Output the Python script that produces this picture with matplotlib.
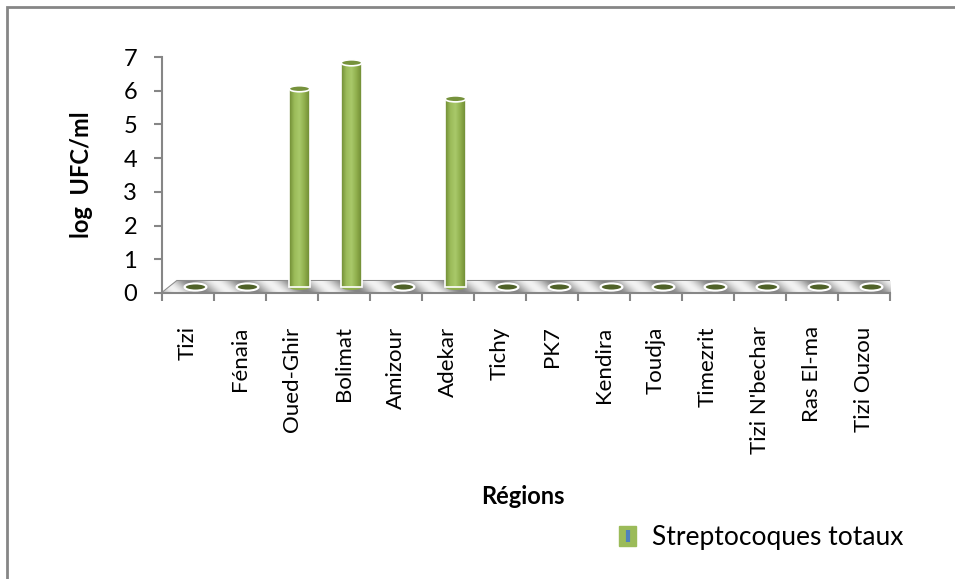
import matplotlib
matplotlib.use("Agg")
import matplotlib.pyplot as plt
import numpy as np
from matplotlib.colors import LinearSegmentedColormap
from matplotlib.lines import Line2D
from matplotlib.legend_handler import HandlerTuple
from matplotlib.patches import Ellipse, Patch, Polygon, Rectangle
from matplotlib.transforms import ScaledTranslation

plt.rcParams["font.family"] = ["Lato", "DejaVu Sans"]

regions = ["Tizi", "Fénaia", "Oued-Ghir", "Bolimat", "Amizour", "Adekar", "Tichy",
           "PK7", "Kendira", "Toudja", "Timezrit", "Tizi N'bechar", "Ras El-ma", "Tizi Ouzou"]
strepto = [0, 0, 5.88, 6.65, 0, 5.58, 0, 0, 0, 0, 0, 0, 0, 0]
series_name = "Streptocoques totaux"
y_ticks = [0, 1, 2, 3, 4, 5, 6, 7]

W, H, DPI = 955, 579, 100
fig = plt.figure(figsize=(W / DPI, H / DPI), dpi=DPI)

# outer chart border (runs off the right/bottom edge like the screenshot)
fig.patches.append(Rectangle((7 / W, -0.05), 1.1, 1 - 7 / H + 0.05, transform=fig.transFigure,
                             fill=False, edgecolor="#868686", linewidth=2))

ax = fig.add_axes([162 / W, 1 - 293 / H, 728 / W, 236 / H])
ax.set_facecolor("none")
n = len(regions)
ax.set_xlim(-0.5, n - 0.5)
ax.set_ylim(0, 7)

for s in ["top", "right"]:
    ax.spines[s].set_visible(False)
for s in ["left", "bottom"]:
    ax.spines[s].set_color("#868686")
    ax.spines[s].set_linewidth(1.5)

ax.set_yticks(y_ticks)
ax.tick_params(axis="y", colors="#868686", length=6, width=1.5, pad=12, labelcolor="black", labelsize=17)
ax.set_xticks(np.arange(n + 1) - 0.5)
ax.set_xticklabels([])
ax.tick_params(axis="x", which="major", colors="#868686", length=6, width=1.5)
ax.set_xticks(np.arange(n), minor=True)
ax.set_xticklabels(regions, minor=True, rotation=90, fontsize=16)
ax.tick_params(axis="x", which="minor", length=0, pad=24, labelcolor="black")

# 3D floor
depth_dx, depth_dy = 15, 12
deep = ax.transData + ScaledTranslation(depth_dx / DPI, depth_dy / DPI, fig.dpi_scale_trans)
front = ax.transData.transform([(-0.5, 0), (n - 0.5, 0)])
back = deep.transform([(-0.5, 0), (n - 0.5, 0)])
corners = np.array([front[0], front[1], back[1], back[0]])
floor = Polygon(corners, closed=True, transform=None, facecolor="#d0d0d0",
                edgecolor="#8c8c8c", linewidth=1.5, zorder=1)
ax.add_patch(floor)
x0, y0 = corners.min(axis=0)
x1, y1 = corners.max(axis=0)
xx, yy = np.meshgrid(np.arange(x0, x1), np.arange(y0, y1))
stripes = 0.5 + 0.5 * np.cos(2 * np.pi * (xx + yy * 1.2) / 52)
floor_cmap = LinearSegmentedColormap.from_list("floor", ["#858585", "#bdbdbd", "#f2f2f2"])
inv = ax.transData.inverted()
(dx0, dy0), (dx1, dy1) = inv.transform([(x0, y0), (x1, y1)])
im = ax.imshow(stripes, extent=[dx0, dx1, dy0, dy1], origin="lower", aspect="auto",
               cmap=floor_cmap, zorder=1.5, interpolation="bilinear")
im.set_clip_path(floor)
im.set_clip_box(None)

# cylinders
mid = ax.transData + ScaledTranslation(depth_dx / 2 / DPI, depth_dy / 2 / DPI, fig.dpi_scale_trans)
bar_w = 0.4
ell_h = 6 / (236 / 7)
cyl_cmap = LinearSegmentedColormap.from_list("cyl", ["#6e8a33", "#9bbb59", "#a9c96a", "#8fae4c", "#6e8a33"])
grad = np.linspace(0, 1, 64)[None, :]
for i, v in enumerate(strepto):
    if v > 0:
        ax.imshow(grad, extent=[i - bar_w / 2, i + bar_w / 2, 0, v], aspect="auto",
                  cmap=cyl_cmap, transform=mid, zorder=3)
        ax.add_patch(Rectangle((i - bar_w / 2, 0), bar_w, v, transform=mid, fill=False,
                               edgecolor="white", linewidth=1.2, zorder=3.5))
        ax.add_patch(Ellipse((i, 0), bar_w, ell_h, transform=mid, facecolor="#8fae4c",
                             edgecolor="none", zorder=2.9))
        ax.add_patch(Ellipse((i, v), bar_w, ell_h, transform=mid, facecolor="#76923c",
                             edgecolor="white", linewidth=1.2, zorder=4))
    else:
        ax.add_patch(Ellipse((i, v), bar_w * 1.05, ell_h * 1.2, transform=mid, facecolor="#4f6228",
                             edgecolor="white", linewidth=1.5, zorder=4))

ax.set_xlim(-0.5, n - 0.5)
ax.set_ylim(0, 7)

fig.text(81 / W, 1 - 175 / H, "log  UFC/ml", rotation=90, ha="center", va="center",
         fontsize=17, fontweight="bold")
fig.text(523 / W, 1 - 497 / H, "Régions", ha="center", va="center", fontsize=17, fontweight="bold")

handle = (Patch(facecolor="#9bbb59", edgecolor="#9bbb59"),
          Line2D([], [], marker="|", color="#4f81bd", markersize=8, mew=3, linestyle="none"))
fig.legend([handle], [series_name], handler_map={tuple: HandlerTuple(ndivide=1)},
           loc="center left", bbox_to_anchor=(619 / W, 1 - 538 / H), frameon=False,
           fontsize=19, handlelength=0.65, handleheight=0.8, handletextpad=0.6,
           borderpad=0, borderaxespad=0)

fig.savefig("out.png", dpi=DPI)
